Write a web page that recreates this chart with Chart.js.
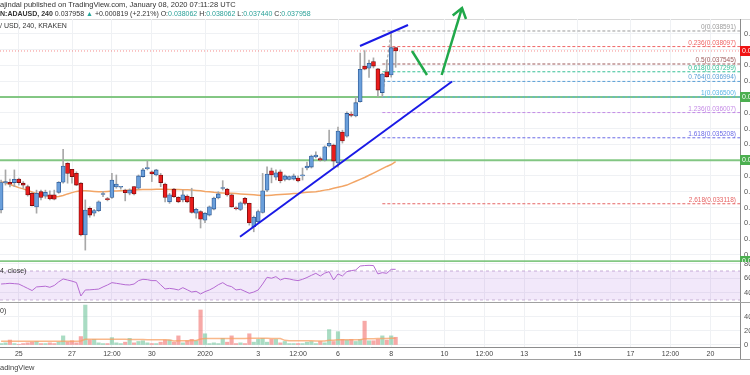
<!DOCTYPE html>
<html><head><meta charset="utf-8">
<script src="https://cdn.jsdelivr.net/npm/chart.js@4.4.1/dist/chart.umd.min.js"></script>
<style>
html,body{margin:0;padding:0;background:#fff;width:750px;height:375px;overflow:hidden;font-family:"Liberation Sans",Arial,sans-serif;}
#wrap{position:relative;width:750px;height:375px;overflow:hidden;background:#fff;}
canvas{position:absolute;left:0;}
.txt{position:absolute;white-space:nowrap;color:#333;line-height:1;}
.hl{position:absolute;left:0;width:750px;height:1px;}
.teal{color:#2aa198;}
</style></head><body>
<div id="wrap">
<div class="hl" style="top:19px;background:#d8d8d8"></div>
<canvas id="main" width="750" height="262" style="top:0"></canvas>
<canvas id="rsi" width="750" height="40" style="top:262px"></canvas>
<canvas id="vol" width="750" height="57" style="top:302px"></canvas>
<div class="hl" style="top:302px;background:#a0a0a0"></div>
<div class="hl" style="top:359px;background:#a0a0a0"></div>
<div style="position:absolute;left:740px;top:347px;width:1px;height:12px;background:#8c8c8c"></div>
<div class="txt" style="left:0;top:1px;font-size:7.5px">ajindal published on TradingView.com, January 08, 2020 07:11:28 UTC</div>
<div class="txt" style="left:0;top:10px;font-size:7px"><b>N:ADAUSD, 240</b> 0.037958 <span style="color:#26a69a">&#9650;</span> +0.000819 (+2.21%) O:<span class="teal">0.038062</span> H:<span class="teal">0.038062</span> L:<span class="teal">0.037440</span> C:<span class="teal">0.037958</span></div>
<div class="txt" style="left:0;top:22px;font-size:7px">/ USD, 240, KRAKEN</div>
<div class="txt" style="left:0;top:267px;font-size:7px">4, close)</div>
<div class="txt" style="left:0;top:307px;font-size:7px">0)</div>
<div class="txt" style="left:0;top:364px;font-size:7.5px;color:#444">adingView</div>
</div>
<script>
// ---------- DATA ----------
const firstCandleUTC = Date.UTC(2019, 11, 24, 8); // first visible 4h candle
const originUTC = Date.UTC(2020, 0, 1);
const candleHours = 4;

const opens = [0.03292,0.03378,0.03380,0.03379,0.03390,0.03377,0.03366,0.03345,0.03302,0.03350,
0.03336,0.03340,0.03340,0.03348,0.03380,0.03440,0.03421,0.03408,0.03377,0.03213,
0.03297,0.03282,0.03290,0.03341,0.03328,0.03332,0.03365,0.03364,0.03355,0.03345,
0.03366,0.03361,0.03398,0.03423,0.03413,0.03403,0.03403,0.03374,0.03318,0.03358,
0.03332,0.03324,0.03336,0.03332,0.03282,0.03287,0.03260,0.03276,0.03295,0.03330,
0.03360,0.03358,0.03340,0.03298,0.03294,0.03329,0.03313,0.03239,0.03255,0.03284,
0.03355,0.03416,0.03396,0.03413,0.03389,0.03389,0.03390,0.03393,0.03400,0.03425,
0.03428,0.03460,0.03455,0.03450,0.03495,0.03498,0.03441,0.03539,0.03526,0.03596,
0.03590,0.03635,0.03748,0.03741,0.03762,0.03739,0.03664,0.03730,0.03720,0.038062];
const highs = [0.03387,0.03419,0.03390,0.03419,0.03393,0.03382,0.03371,0.03347,0.03355,0.03355,
0.03355,0.03353,0.03355,0.03382,0.03484,0.03442,0.03421,0.03413,0.03379,0.03324,
0.03302,0.03294,0.03321,0.03350,0.03332,0.03408,0.03403,0.03366,0.03358,0.03359,
0.03366,0.03403,0.03424,0.03448,0.03416,0.03421,0.03408,0.03377,0.03345,0.03361,
0.03334,0.03355,0.03340,0.03361,0.03297,0.03290,0.03284,0.03305,0.03333,0.03350,
0.03385,0.03361,0.03343,0.03302,0.03318,0.03332,0.03314,0.03273,0.03292,0.03408,
0.03429,0.03425,0.03419,0.03419,0.03403,0.03400,0.03406,0.03400,0.03425,0.03444,
0.03466,0.03476,0.03460,0.03495,0.03545,0.03501,0.03555,0.03545,0.03603,0.03603,
0.03650,0.03789,0.03797,0.03767,0.03774,0.03741,0.03725,0.03767,0.038591,0.038062];
const lows = [0.03283,0.03371,0.03365,0.03366,0.03371,0.03361,0.03336,0.03305,0.03282,0.03324,
0.03329,0.03324,0.03324,0.03345,0.03377,0.03377,0.03377,0.03369,0.03210,0.03165,
0.03269,0.03273,0.03287,0.03334,0.03321,0.03329,0.03361,0.03358,0.03321,0.03340,
0.03340,0.03358,0.03396,0.03419,0.03382,0.03400,0.03366,0.03318,0.03313,0.03332,
0.03315,0.03318,0.03315,0.03282,0.03266,0.03235,0.03252,0.03273,0.03292,0.03327,
0.03355,0.03336,0.03301,0.03292,0.03290,0.03308,0.03244,0.03223,0.03250,0.03282,
0.03350,0.03378,0.03387,0.03378,0.03384,0.03387,0.03387,0.03381,0.03387,0.03419,
0.03425,0.03457,0.03447,0.03447,0.03492,0.03429,0.03428,0.03504,0.03523,0.03587,
0.03587,0.03634,0.03736,0.03712,0.03742,0.03650,0.03650,0.03713,0.03713,0.037440];
const closes = [0.03379,0.03382,0.03374,0.03389,0.03379,0.03371,0.03340,0.03306,0.03345,0.03332,
0.03348,0.03327,0.03326,0.03380,0.03431,0.03408,0.03398,0.03371,0.03213,0.03292,
0.03276,0.03290,0.03318,0.03343,0.03325,0.03387,0.03374,0.03365,0.03347,0.03355,
0.03343,0.03400,0.03419,0.03424,0.03406,0.03419,0.03379,0.03332,0.03340,0.03334,
0.03318,0.03340,0.03318,0.03284,0.03294,0.03263,0.03282,0.03302,0.03330,0.03343,
0.03362,0.03340,0.03302,0.03296,0.03315,0.03313,0.03252,0.03269,0.03287,0.03353,
0.03406,0.03403,0.03410,0.03385,0.03400,0.03398,0.03400,0.03384,0.03403,0.03431,
0.03463,0.03466,0.03450,0.03492,0.03503,0.03447,0.03542,0.03511,0.03598,0.03592,
0.03632,0.03738,0.03738,0.03757,0.03748,0.03672,0.03723,0.03714,0.038062,0.037958];
const priceMA = [0.03382,0.03378,0.03373,0.03368,0.03363,0.03359,0.03354,0.03349,0.03344,0.03341,
0.03338,0.03335,0.03333,0.03335,0.03338,0.03343,0.03347,0.03351,0.03353,0.03353,
0.03352,0.03351,0.03350,0.03350,0.03351,0.03352,0.03352,0.03353,0.03354,0.03355,
0.03355,0.03356,0.03357,0.03357,0.03357,0.03358,0.03358,0.03358,0.03357,0.03357,
0.03357,0.03356,0.03356,0.03355,0.03354,0.03353,0.03351,0.03350,0.03348,0.03347,
0.03346,0.03345,0.03345,0.03344,0.03343,0.03342,0.03341,0.03340,0.03339,0.03338,
0.03338,0.03339,0.03340,0.03341,0.03342,0.03343,0.03344,0.03345,0.03347,0.03348,
0.03349,0.03350,0.03352,0.03355,0.03357,0.03361,0.03364,0.03367,0.03371,0.03377,
0.03383,0.03389,0.03395,0.03402,0.03409,0.03416,0.03423,0.03430,0.03436,0.03445];
const rsiValues = [52,52.5,53,52.5,52,49,46,43,48,48.5,
49,47.5,50,55,59,57.5,56,54,35.5,43.8,
44,44.5,45,48,50.7,53.9,53,52,51,50.7,
52,56.7,58.5,58,56.7,56.7,51,45.2,46,45.2,
43.8,47,44,41,42,38.3,41.5,43.8,47,51,
53.9,50,48.4,43.8,44.7,42,39.2,41,43.8,52,
61.3,60,62.2,57.6,59.9,59,57.6,56.7,58.5,61,
64,66.8,63.1,67,69.1,57.6,65.9,63.1,69.1,70.5,
71.4,76.9,77.5,77.8,77.5,66,67.7,66.8,72.3,72.3];
const volumes = [2,3,7,2,1,2,3,4,5,2,
2,3,2,4,13,4,6,3,12,57,
7,8,3,2,2,10.5,3,2,4,9.5,
3,5,6,3,2,2,4,7,7,4,
13,3,6,8,6,50,16,2,3,2,
9.5,4,13,2,3,2,16,4,8,9.5,
4,8,8,3,5,2,2,2,2,4,
5,2,5,3,22,5,19,8,7,8,
5,8,34,6,6,8,13,7,13,11];
const volumeMA = [5.2,5.2,5.2,5.2,5.2,5.2,5.2,5.2,5.2,5.2,
5.2,5.2,5.2,5.2,5.4,5.4,5.4,5.4,5.6,8.1,
8.1,8.1,8.0,8.0,8.0,8.1,8.0,8.0,8.0,7.9,
7.9,7.8,7.8,7.6,7.6,7.5,7.4,7.3,7.2,5.8,
6.0,6.0,6.1,6.3,6.3,8.6,9.2,9.2,9.2,9.3,
9.3,9.3,9.4,9.4,9.4,9.4,9.5,9.5,9.5,9.5,
9.5,9.4,9.3,9.2,6.6,6.0,6.0,6.0,5.9,5.9,
5.9,5.8,5.8,5.8,6.6,6.7,7.4,7.4,7.5,7.6,
7.6,7.6,8.9,9.0,9.0,9.1,9.2,9.3,9.5,9.6];

const priceTicks = [0.0315,0.0320,0.0325,0.0330,0.0335,0.0340,0.0345,0.0350,0.0355,0.0360,0.0365,0.0370,0.0375,0.0380,0.0385];
const rsiTicks = [40,60,80];
const volTicks = [0,20,40];
const volTickLabels = ['0','20M','40M'];
const timeTickDays = [-7,-5,-3.5,-2,0,2,3.5,5,7,9,10.5,12,14,16,17.5,19];
const timeTickLabels = ['25','27','12:00','30','2020','3','12:00','6','8','10','12:00','13','15','17','12:00','20'];

const levelLines = [0.0365, 0.0345, 0.0313];            // green horizontal lines
const fibRatios = ['0','0.236','0.5','0.618','0.764','1','1.236','1.618','2.618'];
const fibPrices = [0.038591,0.038097,0.037545,0.037299,0.036994,0.036500,0.036007,0.035208,0.033118];
const fibColors = ['#9a9a9a','#ef6464','#9d5a5a','#36c096','#5a9fd6','#56b4e6','#c48ae6','#6a6ae6','#e66464'];
const fibStartCandle = 86, fibHighCandle = 88;
const supportT = [1.316, 9.286], supportP = [0.032074, 0.036991];
const resistT = [5.827, 7.632], resistP = [0.038116, 0.038781];
const arrowDownT = [7.782, 8.346], arrowDownP = [0.037957, 0.037197];
const arrowUpT = [8.898, 9.662], arrowUpP = [0.037197, 0.03932];
const arrowHeadT = [9.312, 9.662, 9.812], arrowHeadP = [0.039079, 0.03932, 0.038971];
const rsiUpper = 70, rsiLower = 30;

// ---------- VIEW ----------
const xMin = -7.707, xMax = 20.113;
const tOf = i => (firstCandleUTC - originUTC) / 86400000 + i * candleHours / 24;
const isUp = i => closes[i] >= opens[i];
const lastClose = closes[closes.length - 1];
const FONT = '"Liberation Sans", Arial, sans-serif';
const GRID = '#eff1f4';

function xAxis(showLabels) {
  return {
    type: 'linear', min: xMin, max: xMax, offset: false,
    grid: { color: GRID, drawTicks: false, offset: false },
    border: { display: showLabels, color: '#8c8c8c' },
    ticks: { display: showLabels, autoSkip: false, maxRotation: 0, padding: 3,
      font: { family: FONT, size: 7 }, color: '#444',
      callback: (v, idx) => timeTickLabels[idx] },
    afterBuildTicks: s => { s.ticks = timeTickDays.map(v => ({ value: v })); },
    afterFit: s => { s.height = showLabels ? 12 : 0; s.paddingLeft = 0; s.paddingRight = 0; }
  };
}
function yAxis(min, max, ticks, fmt) {
  return {
    position: 'right', min, max,
    grid: { color: GRID, drawTicks: false },
    border: { display: true, color: '#8c8c8c' },
    ticks: { padding: 4, font: { family: FONT, size: 7.5 }, color: '#555', callback: fmt },
    afterBuildTicks: s => { s.ticks = ticks.map(v => ({ value: v })); },
    afterFit: s => { s.width = 10; s.paddingTop = 0; s.paddingBottom = 0; }
  };
}
const hseg = (y, t0, t1) => [{ x: t0, y }, { x: t1, y }];
const lineDS = (data, color, width, extra) => Object.assign({
  type: 'line', data, borderColor: color, borderWidth: width, pointRadius: 0, fill: false, tension: 0
}, extra || {});

// ---------- MAIN ----------
const mainDatasets = [];
levelLines.forEach(v => mainDatasets.push(lineDS(hseg(v, xMin, xMax), 'rgba(110,190,110,0.85)', 2, { order: 20 })));
fibPrices.forEach((p, k) => mainDatasets.push(lineDS(hseg(p, tOf(fibStartCandle), xMax), fibColors[k], 1, { borderDash: [3, 2], order: 19 })));
mainDatasets.push(lineDS([{ x: tOf(fibStartCandle), y: fibPrices[5] }, { x: tOf(fibHighCandle), y: fibPrices[0] }], '#a0a0a0', 1, { borderDash: [3, 2], order: 18 }));
mainDatasets.push(lineDS(hseg(lastClose, xMin, xMax), 'rgba(240,60,60,0.6)', 1, { borderDash: [1, 2], order: 17 }));
mainDatasets.push(lineDS(priceMA.map((v, i) => ({ x: tOf(i), y: v })), '#f2a566', 1.5, { order: 16 }));
mainDatasets.push({
  type: 'bar', order: 6, grouped: false, barThickness: 1,
  data: lows.map((l, i) => ({ x: tOf(i), y: [l, highs[i]] })),
  backgroundColor: '#a8a8a8', borderWidth: 0
});
mainDatasets.push({
  type: 'bar', order: 5, grouped: false, barThickness: 4, minBarLength: 1,
  data: opens.map((o, i) => ({ x: tOf(i), y: [o, closes[i]] })),
  backgroundColor: opens.map((o, i) => isUp(i) ? '#6a9fdb' : '#ea1c1c'),
  borderColor: opens.map((o, i) => isUp(i) ? '#2f5b96' : '#7a0c0c'),
  borderWidth: 0.8, borderSkipped: false
});
mainDatasets.push(lineDS(supportT.map((t, k) => ({ x: t, y: supportP[k] })), '#1a1ae6', 2, { order: 2 }));
mainDatasets.push(lineDS(resistT.map((t, k) => ({ x: t, y: resistP[k] })), '#1a1ae6', 2, { order: 2 }));
mainDatasets.push(lineDS(arrowDownT.map((t, k) => ({ x: t, y: arrowDownP[k] })), '#20a84a', 2.5, { order: 1, clip: false }));
mainDatasets.push(lineDS(arrowUpT.map((t, k) => ({ x: t, y: arrowUpP[k] })), '#20a84a', 2.5, { order: 1, clip: false }));
mainDatasets.push(lineDS(arrowHeadT.map((t, k) => ({ x: t, y: arrowHeadP[k] })), '#20a84a', 2.5, { order: 1, clip: false }));

function tag(ctx, y, color, text) {
  ctx.fillStyle = color;
  ctx.fillRect(740, Math.round(y) - 5, 12, 10);
  ctx.fillStyle = '#fff';
  ctx.font = '7px ' + FONT;
  ctx.textAlign = 'left'; ctx.textBaseline = 'middle';
  ctx.fillText(text, 742, Math.round(y));
}
const mainOverlay = {
  id: 'mainOverlay',
  afterDatasetsDraw(chart) {
    const { ctx, chartArea, scales } = chart;
    ctx.save();
    ctx.font = '6.5px ' + FONT;
    ctx.textAlign = 'right'; ctx.textBaseline = 'bottom';
    fibPrices.forEach((p, k) => {
      ctx.fillStyle = fibColors[k];
      ctx.fillText(fibRatios[k] + '(' + p.toFixed(6) + ')', chartArea.right - 4, scales.y.getPixelForValue(p) - 0.5);
    });
    ctx.restore();
  },
  afterDraw(chart) {
    const { ctx, scales } = chart;
    ctx.save();
    tag(ctx, scales.y.getPixelForValue(lastClose), '#f01414', lastClose.toFixed(6));
    levelLines.forEach(v => tag(ctx, scales.y.getPixelForValue(v), '#4caf50', v.toFixed(6)));
    ctx.restore();
  }
};

const common = {
  responsive: false, animation: false, events: [],
  plugins: { legend: { display: false }, tooltip: { enabled: false } }
};

new Chart(document.getElementById('main'), {
  type: 'line',
  data: { datasets: mainDatasets },
  options: Object.assign({}, common, {
    layout: { padding: { top: 19, left: 0, right: 0, bottom: 0 } },
    scales: { x: xAxis(false), y: yAxis(0.031273, 0.038971, priceTicks, v => v.toFixed(5)) }
  }),
  plugins: [mainOverlay]
});

// ---------- RSI ----------
new Chart(document.getElementById('rsi'), {
  type: 'line',
  data: { datasets: [
    lineDS(hseg(rsiUpper, xMin, xMax), '#c9b3d6', 1, { borderDash: [3, 3], order: 5 }),
    lineDS(hseg(rsiLower, xMin, xMax), '#c9b3d6', 1, { borderDash: [3, 3], order: 4, fill: '-1', backgroundColor: 'rgba(155,80,220,0.13)' }),
    lineDS(rsiValues.map((v, i) => ({ x: tOf(i), y: v })), '#b56ad2', 1, { order: 1 })
  ] },
  options: Object.assign({}, common, {
    layout: { padding: 0 },
    scales: { x: xAxis(false), y: yAxis(27.2, 82.4, rsiTicks, v => v.toFixed(2)) }
  })
});

// ---------- VOLUME ----------
new Chart(document.getElementById('vol'), {
  type: 'line',
  data: { datasets: [
    { type: 'bar', order: 3, grouped: false, barThickness: 3.5,
      data: volumes.map((v, i) => ({ x: tOf(i), y: v })),
      backgroundColor: volumes.map((v, i) => isUp(i) ? 'rgba(83,185,135,0.5)' : 'rgba(239,83,80,0.5)'),
      borderWidth: 0 },
    lineDS(volumeMA.map((v, i) => ({ x: tOf(i), y: v })), 'rgba(247,160,100,0.75)', 1.5, { order: 1 })
  ] },
  options: Object.assign({}, common, {
    layout: { padding: 0 },
    scales: { x: xAxis(true), y: yAxis(-2.9, 61.4, volTicks, (v, idx) => volTickLabels[idx]) }
  })
});
</script>
</body></html>
